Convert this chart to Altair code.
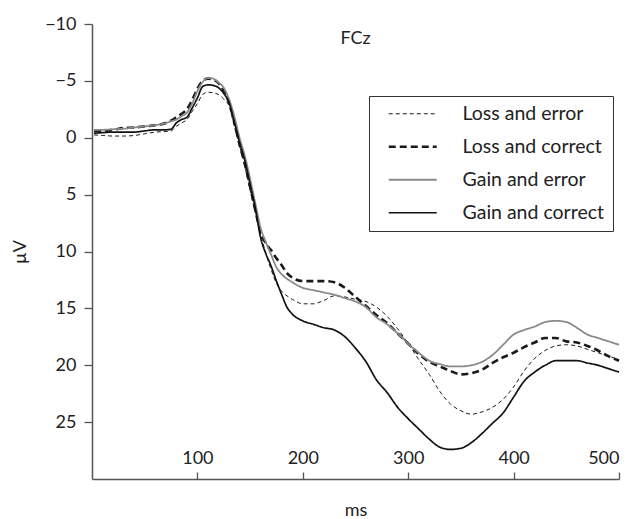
import altair as alt
import pandas as pd

# time points (ms)
T = [2, 10, 20, 30, 40, 50, 60, 70, 75, 80, 85, 90, 95, 100, 105, 110, 115, 120,
     125, 130, 135, 140, 145, 150, 155, 160, 165, 170, 175, 180, 185, 190, 200,
     210, 220, 230, 240, 250, 260, 270, 280, 290, 300, 310, 320, 330, 340, 350,
     360, 370, 380, 390, 400, 410, 420, 430, 440, 450, 460, 470, 480, 490, 500]

loss_error = [-0.25, -0.2, -0.15, -0.15, -0.2, -0.35, -0.5, -0.55, -0.6, -1.0, -1.3, -1.6,
              -2.3, -3.0, -3.8, -4.0, -3.95, -3.8, -3.4, -2.8, -1.0, 0.7, 2.5, 4.6, 6.6,
              8.5, 10.2, 11.6, 12.8, 13.5, 13.9, 14.2, 14.6, 14.6, 14.3, 13.9, 14.0,
              14.2, 14.4, 14.9, 15.7, 16.8, 18.1, 19.5, 20.8, 22.3, 23.4, 24.0, 24.3,
              24.1, 23.7, 23.0, 21.9, 20.5, 19.4, 18.7, 18.3, 18.2, 18.3, 18.6, 18.9,
              19.2, 19.5]

loss_correct = [-0.6, -0.6, -0.7, -0.85, -0.9, -1.0, -1.1, -1.3, -1.5, -1.8, -2.1, -2.5,
                -3.3, -4.3, -5.0, -5.2, -5.1, -4.8, -4.1, -3.1, -1.4, 0.6, 2.3, 4.3, 6.4,
                8.3, 9.3, 9.9, 10.6, 11.2, 11.9, 12.3, 12.6, 12.6, 12.6, 12.7, 13.2,
                14.0, 14.8, 15.6, 16.3, 17.2, 18.1, 19.0, 19.7, 20.1, 20.5, 20.8, 20.7,
                20.4, 19.8, 19.3, 18.9, 18.4, 18.0, 17.6, 17.6, 17.9, 18.0, 18.3, 18.7,
                19.2, 19.6]

gain_error = [-0.7, -0.7, -0.75, -0.8, -0.9, -1.0, -1.1, -1.3, -1.45, -1.6, -1.9, -2.2,
              -3.0, -4.1, -4.9, -5.25, -5.2, -4.85, -4.4, -3.4, -1.9, 0.0, 1.6, 3.6, 5.8,
              7.9, 9.2, 10.3, 11.4, 12.0, 12.4, 12.7, 13.2, 13.4, 13.6, 13.8, 14.1,
              14.4, 14.9, 15.8, 16.4, 17.2, 18.1, 18.9, 19.6, 19.9, 20.1, 20.1, 20.0,
              19.7, 19.1, 18.2, 17.3, 16.9, 16.6, 16.2, 16.1, 16.2, 16.7, 17.3, 17.6,
              17.9, 18.2]

gain_correct = [-0.4, -0.45, -0.5, -0.5, -0.5, -0.6, -0.7, -0.7, -0.75, -1.3, -1.6, -1.8,
                -2.6, -3.5, -4.5, -4.65, -4.6, -4.4, -3.9, -3.1, -1.4, 0.4, 2.0, 4.1, 6.2,
                8.8, 10.2, 11.3, 12.6, 13.8, 14.9, 15.5, 16.1, 16.4, 16.7, 16.9, 17.5,
                18.5, 19.7, 21.3, 22.4, 23.7, 24.7, 25.6, 26.5, 27.2, 27.4, 27.3, 26.8,
                26.0, 25.1, 24.2, 22.8, 21.4, 20.6, 20.0, 19.6, 19.6, 19.6, 19.8, 20.0,
                20.3, 20.6]

conditions = ["Loss and error", "Loss and correct", "Gain and error", "Gain and correct"]
series = [loss_error, loss_correct, gain_error, gain_correct]

x_ticks = [100, 200, 300, 400, 500]
y_ticks = [-10, -5, 0, 5, 10, 15, 20, 25]

# styles
colors = ["#1a1a1a", "#1a1a1a", "#8a8a8a", "#111111"]
dashes = [[4, 3], [7, 4], [1, 0], [1, 0]]
widths = [1.0, 2.6, 1.8, 1.7]

rows = []
for name, vals, w in zip(conditions, series, widths):
    for t, v in zip(T, vals):
        rows.append({"ms": t, "uV": v, "cond": name, "sw": w})
df = pd.DataFrame(rows)

width_expr = " : ".join(
    f"datum.value === '{c}' ? {w}" for c, w in zip(conditions[:-1], widths[:-1])
) + f" : {widths[-1]}"

FONT = "Lato"
W, H = 527, 455

chart = alt.Chart(df).mark_line(interpolate="monotone").encode(
    x=alt.X("ms:Q",
            scale=alt.Scale(domain=[0, 500], nice=False, zero=False),
            axis=alt.Axis(orient="top", offset=-H, values=x_ticks, title="ms",
                          titleY=31, titleBaseline="middle", tickSize=7,
                          labelPadding=5, grid=False)),
    y=alt.Y("uV:Q",
            scale=alt.Scale(domain=[-10, 30], reverse=True, nice=False, zero=False),
            axis=alt.Axis(values=y_ticks, title="µV", tickSize=8, labelPadding=8,
                          titlePadding=15, grid=False)),
    color=alt.Color("cond:N",
                    scale=alt.Scale(domain=conditions, range=colors),
                    legend=alt.Legend(title=None, orient="none", legendX=277, legendY=72,
                                      symbolType="M-1.714,0H1.714", symbolSize=784,
                                      symbolFillColor="transparent",
                                      symbolStrokeWidth=alt.ExprRef(expr=width_expr),
                                      labelFont=FONT, labelFontSize=19.5, labelColor="#222",
                                      labelOffset=40, rowPadding=12, padding=8,
                                      symbolOffset=26, strokeColor="#333",
                                      fillColor="white", labelLimit=300)),
    strokeDash=alt.StrokeDash("cond:N",
                              scale=alt.Scale(domain=conditions, range=dashes)),
    strokeWidth=alt.StrokeWidth("sw:Q", scale=None),
).properties(
    width=W, height=H,
    title=alt.TitleParams("FCz", anchor="middle", offset=-33, font=FONT,
                          fontSize=18, fontWeight="normal", color="#222"),
    autosize=alt.AutoSizeParams(type="none"),
    padding={"left": 84, "top": 16, "right": 2, "bottom": 40},
).configure_view(stroke=None).configure_axis(
    domainColor="#555", domainWidth=1.5, tickColor="#555", tickWidth=1.3,
    labelFont=FONT, labelFontSize=18, labelColor="#222",
    titleFont=FONT, titleFontSize=18, titleFontWeight="normal", titleColor="#222",
)

chart.save("out.html", embed_options={"renderer": "svg", "actions": False})
